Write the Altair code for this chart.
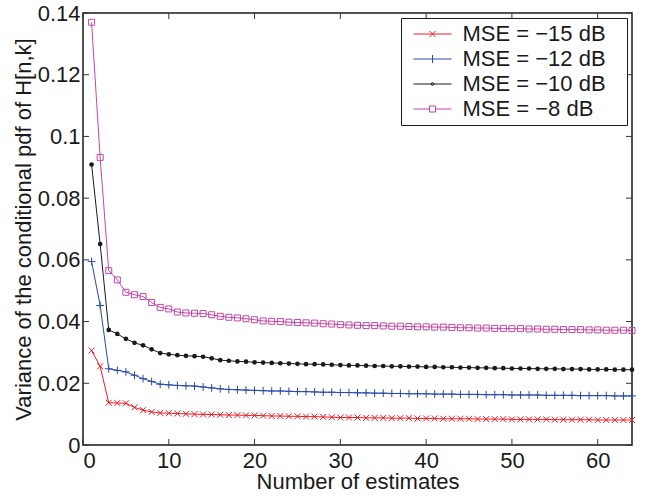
import altair as alt
import pandas as pd

# ---- data ----
estimates = list(range(1, 65))
series_names = ["MSE = −15 dB", "MSE = −12 dB", "MSE = −10 dB", "MSE = −8 dB"]
series_colors = ["#ee1c24", "#2a48a8", "#1a1a1a", "#c447a6"]

mse_m15 = [0.0306, 0.0255, 0.0137, 0.0136, 0.0135, 0.0122, 0.0113, 0.0107, 0.0104, 0.0103,
           0.0102, 0.0101, 0.0100, 0.0099, 0.0099, 0.0098, 0.0097, 0.0097, 0.0096, 0.0096,
           0.0095, 0.0094, 0.0094, 0.0093, 0.0093, 0.0092, 0.0092, 0.0091, 0.0090, 0.0089,
           0.0089, 0.0089, 0.0088, 0.0088, 0.0088, 0.0087, 0.0087, 0.0087, 0.0086, 0.0086,
           0.0086, 0.0085, 0.0085, 0.0085, 0.0085, 0.0084, 0.0084, 0.0084, 0.0084, 0.0083,
           0.0083, 0.0083, 0.0083, 0.0083, 0.0082, 0.0082, 0.0082, 0.0082, 0.0082, 0.0081,
           0.0081, 0.0081, 0.0081, 0.0081]
mse_m12 = [0.0595, 0.0452, 0.0247, 0.0242, 0.0237, 0.0226, 0.0215, 0.0206, 0.0197, 0.0195,
           0.0193, 0.0192, 0.0191, 0.0188, 0.0185, 0.0182, 0.0180, 0.0179, 0.0178, 0.0177,
           0.0176, 0.0175, 0.0175, 0.0174, 0.0173, 0.0173, 0.0172, 0.0171, 0.0171, 0.0170,
           0.0170, 0.0169, 0.0169, 0.0168, 0.0168, 0.0167, 0.0167, 0.0166, 0.0166, 0.0166,
           0.0165, 0.0165, 0.0165, 0.0164, 0.0164, 0.0164, 0.0163, 0.0163, 0.0163, 0.0162,
           0.0162, 0.0162, 0.0162, 0.0161, 0.0161, 0.0161, 0.0161, 0.0160, 0.0160, 0.0160,
           0.0160, 0.0159, 0.0159, 0.0159]
mse_m10 = [0.0909, 0.0651, 0.0373, 0.0360, 0.0344, 0.0331, 0.0323, 0.0310, 0.0298, 0.0294,
           0.0291, 0.0289, 0.0288, 0.0286, 0.0281, 0.0275, 0.0273, 0.0271, 0.0270, 0.0268,
           0.0267, 0.0266, 0.0265, 0.0264, 0.0263, 0.0262, 0.0262, 0.0261, 0.0260, 0.0259,
           0.0258, 0.0258, 0.0257, 0.0256, 0.0256, 0.0255, 0.0255, 0.0254, 0.0254, 0.0253,
           0.0253, 0.0252, 0.0252, 0.0251, 0.0251, 0.0250, 0.0250, 0.0249, 0.0249, 0.0248,
           0.0248, 0.0248, 0.0247, 0.0247, 0.0247, 0.0246, 0.0246, 0.0246, 0.0245, 0.0245,
           0.0245, 0.0244, 0.0244, 0.0244]
mse_m8 = [0.1370, 0.0932, 0.0565, 0.0535, 0.0495, 0.0487, 0.0481, 0.0462, 0.0446, 0.0441,
          0.0431, 0.0428, 0.0427, 0.0426, 0.0422, 0.0417, 0.0414, 0.0412, 0.0409, 0.0406,
          0.0402, 0.0401, 0.0400, 0.0398, 0.0397, 0.0396, 0.0395, 0.0393, 0.0392, 0.0390,
          0.0389, 0.0388, 0.0387, 0.0387, 0.0386, 0.0385, 0.0385, 0.0384, 0.0383, 0.0383,
          0.0382, 0.0382, 0.0381, 0.0380, 0.0380, 0.0379, 0.0379, 0.0378, 0.0378, 0.0377,
          0.0377, 0.0376, 0.0376, 0.0375, 0.0375, 0.0374, 0.0374, 0.0374, 0.0373, 0.0373,
          0.0372, 0.0372, 0.0372, 0.0371]

x_ticks = [0, 10, 20, 30, 40, 50, 60]
y_ticks = [0, 0.02, 0.04, 0.06, 0.08, 0.1, 0.12, 0.14]

# ---- build tables ----
all_series = [mse_m15, mse_m12, mse_m10, mse_m8]
rows = []
for name, vals in zip(series_names, all_series):
    for n, v in zip(estimates, vals):
        rows.append({"n": n, "v": v, "series": name})
df = pd.DataFrame(rows)
xt = pd.DataFrame({"t": x_ticks})
yt = pd.DataFrame({"t": y_ticks})

W, H = 549, 432
FONT = "Liberation Sans"
TXT = "#1a1a1a"

xscale = alt.Scale(domain=[0, 64], nice=False, zero=False)
yscale = alt.Scale(domain=[0, 0.14], nice=False)

X = alt.X("n:Q", scale=xscale,
          axis=alt.Axis(values=x_ticks, title="Number of estimates", tickSize=0,
                        domain=False, grid=False, labelPadding=5, titlePadding=0,
                        labelFont=FONT, labelFontSize=22, labelColor=TXT,
                        titleFont=FONT, titleFontSize=22, titleColor=TXT,
                        titleFontWeight="normal"))
Y = alt.Y("v:Q", scale=yscale,
          axis=alt.Axis(values=y_ticks, format="~g",
                        title="Variance of the conditional pdf of H[n,k]", tickSize=0,
                        domain=False, grid=False, labelPadding=3, titlePadding=2,
                        labelFont=FONT, labelFontSize=22, labelColor=TXT,
                        titleFont=FONT, titleFontSize=22, titleColor=TXT,
                        titleFontWeight="normal"))

base = alt.Chart(df)

marker_paths = {
    series_names[0]: "M-1,-1L1,1M-1,1L1,-1",
    series_names[1]: "M-1.3,0L1.3,0M0,-1.3L0,1.3",
    series_names[3]: "M-1,-1H1V1H-1Z",
}
line_layers = []
marker_layers = []
for i, (name, color) in enumerate(zip(series_names, series_colors)):
    sub = base.transform_filter(alt.datum.series == name)
    if i == 0:
        ln = sub.mark_line(strokeWidth=1, color=color).encode(x=X, y=Y)
    else:
        ln = sub.mark_line(strokeWidth=1, color=color).encode(x="n:Q", y="v:Q")
    line_layers.append(ln)
    if name in marker_paths:
        m = sub.mark_point(shape=marker_paths[name], size=36, filled=False,
                           strokeWidth=1, color=color, opacity=1)
    else:
        m = sub.mark_point(shape="circle", size=22, filled=True, color=color, opacity=1)
    marker_layers.append(m.encode(x="n:Q", y="v:Q"))

legend_paths = [
    "M-4.75,0L4.75,0M-0.75,-0.75L0.75,0.75M-0.75,0.75L0.75,-0.75",
    "M-4.75,0L4.75,0M0,-1L0,1",
    "M-4.75,0L4.75,0M-0.35,0A0.35,0.35,0,1,1,0.35,0A0.35,0.35,0,1,1,-0.35,0Z",
    "M-4.75,0L-0.75,0M0.75,0L4.75,0M-0.75,-0.75H0.75V0.75H-0.75Z",
]
leg = alt.Legend(title=None, orient="top-right", offset=5, padding=5,
                 strokeColor=TXT, fillColor="white",
                 labelFont=FONT, labelFontSize=22, labelColor=TXT, labelLimit=400,
                 symbolSize=64, symbolStrokeWidth=1, symbolOffset=15.5,
                 labelOffset=19, rowPadding=3, symbolOpacity=1,
                 labelExpr="datum.label + '\u2800'")
legend_layer = base.transform_filter(alt.datum.n == 1).mark_point(
    size=0, filled=False, strokeWidth=1).encode(
    x="n:Q", y="v:Q",
    shape=alt.Shape("series:N", scale=alt.Scale(domain=series_names, range=legend_paths), legend=leg),
    stroke=alt.Stroke("series:N", scale=alt.Scale(domain=series_names, range=series_colors), legend=leg),
)

tick_color = "#333333"
bottom_ticks = alt.Chart(xt).mark_rule(color=tick_color, strokeWidth=1).encode(
    x=alt.X("t:Q", scale=xscale), y=alt.value(H), y2=alt.value(H - 6))
top_ticks = alt.Chart(xt).mark_rule(color=tick_color, strokeWidth=1).encode(
    x=alt.X("t:Q", scale=xscale), y=alt.value(0), y2=alt.value(6))
left_ticks = alt.Chart(yt).mark_rule(color=tick_color, strokeWidth=1).encode(
    y=alt.Y("t:Q", scale=yscale), x=alt.value(0), x2=alt.value(6))
right_ticks = alt.Chart(yt).mark_rule(color=tick_color, strokeWidth=1).encode(
    y=alt.Y("t:Q", scale=yscale), x=alt.value(W), x2=alt.value(W - 6))

chart = alt.layer(
    *line_layers, bottom_ticks, top_ticks, left_ticks, right_ticks,
    *marker_layers, legend_layer,
).properties(
    width=W, height=H, background="white",
    autosize=alt.AutoSizeParams(type="none"),
    padding={"left": 83, "top": 13, "right": 17, "bottom": 53},
).configure_view(
    stroke=TXT, strokeWidth=1.5
)

chart.save("out.html", embed_options={"renderer": "svg", "actions": False})
